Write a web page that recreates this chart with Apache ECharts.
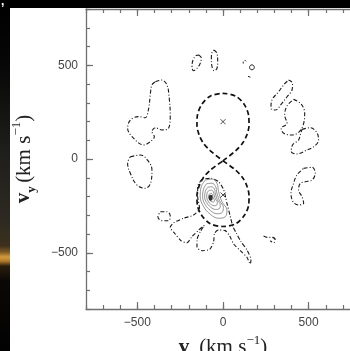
<!DOCTYPE html>
<html>
<head>
<meta charset="utf-8">
<script src="https://cdn.jsdelivr.net/npm/echarts@6/dist/echarts.min.js"></script>
<style>
  html, body { margin: 0; padding: 0; background: #fff; }
  #chart { width: 350px; height: 351px; }
</style>
</head>
<body>
<div id="chart"></div>
<script>
// Velocity-space range (km/s) and labelled ticks
const axisMin = -800;
const axisMax = 800;
const minorStep = 100;
const xTickLabels = [-500, 0, 500];
const yTickLabels = [-500, 0, 500];

// Roche lobes (dashed figure eight), [vx, vy] in km/s
const lobeUpper = [
  [0, -10], [75, 45], [115, 85], [140, 130], [152, 180], [150, 230], [125, 290], [75, 335],
  [0, 350], [-75, 335], [-125, 290], [-150, 230], [-152, 180], [-140, 130], [-115, 85], [-75, 45], [0, -10]
];
const lobeLower = [
  [0, -10], [75, -60], [115, -100], [140, -145], [152, -195], [150, -245], [125, -300], [75, -345],
  [0, -360], [-75, -345], [-125, -300], [-150, -245], [-152, -195], [-140, -145], [-115, -100], [-75, -60], [0, -10]
];

// Centres of mass of the two stars
const starCentres = [[0, 199], [0, -192]];

// Emission peak
const peak = [[-72, -207]];

// Dash-dot emission contours
const contourNW = [
  [-395, 412], [-358, 421], [-327, 395], [-314, 324], [-308, 235], [-318, 164], [-358, 155],
  [-395, 167], [-415, 146], [-401, 119], [-425, 92], [-464, 75], [-512, 101], [-557, 164],
  [-541, 208], [-493, 226], [-454, 220], [-434, 270], [-425, 341], [-415, 395], [-395, 412]
];
const contourW = [
  [-541, 12], [-483, 21], [-434, -14], [-415, -59], [-420, -121], [-454, -156],
  [-502, -139], [-541, -76], [-557, -23], [-541, 12]
];
const contourSWsmall = [
  [-366, -281], [-327, -281], [-308, -304], [-318, -329], [-356, -329], [-380, -308], [-366, -281]
];
const contourCentral = [
  [-123, -108], [-148, -148], [-148, -201], [-137, -263], [-172, -299], [-230, -316], [-288, -340],
  [-308, -364], [-279, -400], [-245, -436], [-210, -446], [-181, -414], [-142, -379], [-109, -354],
  [-133, -388], [-152, -432], [-152, -471], [-123, -489], [-78, -482], [-55, -441], [-49, -396],
  [-26, -379], [13, -382], [39, -411], [62, -453], [101, -489], [140, -524], [159, -560],
  [163, -539], [140, -485], [105, -441], [78, -396], [58, -361], [43, -308], [23, -236],
  [4, -165], [-26, -121], [-70, -103], [-123, -108]
];
const contourTopA = [
  [-142, 555], [-127, 540], [-133, 510], [-152, 484], [-172, 471], [-181, 492], [-175, 528], [-158, 551], [-142, 555]
];
const contourTopB = [
  [-55, 581], [-35, 564], [-31, 519], [-35, 484], [-51, 471], [-64, 492], [-68, 537], [-64, 569], [-55, 581]
];
const contourTopRing = [
  [183, 489], [179, 498], [169, 502], [159, 498], [155, 489], [159, 480], [169, 476], [179, 480], [183, 489]
];
const contourTopArc = [[136, 521], [127, 526], [118, 520], [118, 511], [126, 506]];
const contourTopDash = [[146, 441], [160, 436]];
const contourNE1 = [
  [383, 421], [406, 404], [403, 368], [374, 332], [344, 297], [305, 261], [280, 270],
  [286, 315], [325, 359], [354, 395], [383, 421]
];
const contourNE2 = [
  [412, 318], [457, 293], [477, 244], [471, 190], [446, 146], [403, 128], [354, 137],
  [340, 164], [374, 190], [360, 235], [374, 283], [412, 318]
];
const contourE = [
  [461, 158], [510, 167], [549, 140], [558, 101], [535, 69], [490, 48], [432, 27],
  [399, 39], [406, 75], [441, 101], [451, 128], [461, 158]
];
const contourSE = [
  [471, -50], [520, -44], [539, -76], [520, -112], [481, -121], [451, -130], [441, -165],
  [461, -201], [471, -236], [441, -245], [409, -228], [397, -183], [412, -130], [432, -85], [471, -50]
];
const contourSEsmall = [[237, -411], [260, -418], [286, -418], [305, -432], [296, -446], [276, -436]];

// Solid contours around the emission peak, outermost first
const peakLevels = [
  [[-103, -112], [-64, -107], [-35, -130], [-26, -174], [-6, -228], [23, -272], [13, -308],
   [-26, -316], [-74, -295], [-113, -254], [-133, -201], [-127, -148], [-103, -112]],
  [[-96, -132], [-65, -129], [-43, -147], [-36, -181], [-20, -223], [2, -257], [-5, -285],
   [-36, -292], [-73, -275], [-104, -243], [-119, -202], [-114, -161], [-96, -132]],
  [[-89, -151], [-67, -148], [-50, -161], [-44, -187], [-33, -218], [-16, -244], [-22, -265],
   [-44, -269], [-72, -257], [-95, -233], [-107, -203], [-103, -172], [-89, -151]],
  [[-83, -168], [-68, -166], [-56, -175], [-52, -193], [-44, -214], [-33, -232], [-37, -246],
   [-52, -249], [-72, -241], [-87, -225], [-95, -203], [-93, -182], [-83, -168]],
  [[-77, -185], [-69, -183], [-62, -188], [-60, -198], [-56, -210], [-50, -220], [-52, -228],
   [-60, -229], [-71, -225], [-79, -216], [-84, -204], [-83, -192], [-77, -185]]
];

const dashDot = { color: '#1a1a1a', width: 1.1, type: [4, 2, 1, 2] };
const lobeStyle = { color: '#111', width: 1.7, type: [5, 3] };
const solidStyle = { color: '#7a7a7a', width: 0.8, type: 'solid' };

function curve(data, style, smooth) {
  return {
    type: 'line', data: data, showSymbol: false, symbol: 'none',
    smooth: smooth, lineStyle: style, silent: true, animation: false, z: 3
  };
}

function fmt(v) { return v < 0 ? '\u2212' + Math.abs(v) : String(v); }

const labelFont = { fontFamily: 'Liberation Sans, Arial, sans-serif', fontSize: 12, color: '#444' };
const frameLine = { color: '#707070', width: 1.3 };
const tickStyle = { color: '#707070', width: 1.2 };

const titleRich = {
  v: { fontFamily: 'Liberation Serif, serif', fontSize: 21, fontWeight: 'bold', color: '#222', lineHeight: 28 },
  s: { fontFamily: 'Liberation Serif, serif', fontSize: 13, fontWeight: 'bold', color: '#222', lineHeight: 13, verticalAlign: 'bottom' },
  t: { fontFamily: 'Liberation Serif, serif', fontSize: 21, color: '#222', lineHeight: 28 },
  p: { fontFamily: 'Liberation Serif, serif', fontSize: 13, color: '#222', lineHeight: 13, verticalAlign: 'top' }
};

function minorAxis(pos, withLabels, labels, extra) {
  return Object.assign({
    type: 'value', min: axisMin, max: axisMax, interval: minorStep, position: pos,
    axisLine: { show: true, onZero: false, lineStyle: frameLine },
    axisTick: { show: true, inside: true, length: 4, lineStyle: tickStyle },
    axisLabel: withLabels
      ? Object.assign({ show: true, customValues: labels, formatter: fmt, margin: 8 }, labelFont)
      : { show: false },
    splitLine: { show: false }
  }, extra || {});
}
function majorAxis(pos, values) {
  return {
    type: 'value', min: axisMin, max: axisMax, position: pos,
    axisLine: { show: false, onZero: false },
    axisTick: { show: true, inside: true, length: 7, customValues: values, lineStyle: tickStyle },
    axisLabel: { show: false },
    splitLine: { show: false }
  };
}

const series = [
  curve(lobeUpper, lobeStyle, 0.3),
  curve(lobeLower, lobeStyle, 0.3),
  curve(contourNW, dashDot, 0.35),
  curve(contourW, dashDot, 0.4),
  curve(contourSWsmall, dashDot, 0.4),
  curve(contourCentral, dashDot, 0.25),
  curve(contourTopA, dashDot, 0.4),
  curve(contourTopB, dashDot, 0.4),
  curve(contourTopRing, { color: '#222', width: 1, type: 'solid' }, 0.5),
  curve(contourTopArc, { color: '#222', width: 1, type: [2, 2] }, 0.5),
  curve(contourTopDash, { color: '#222', width: 1, type: 'solid' }, 0),
  curve(contourNE1, dashDot, 0.35),
  curve(contourNE2, dashDot, 0.35),
  curve(contourE, dashDot, 0.35),
  curve(contourSE, dashDot, 0.35),
  curve(contourSEsmall, dashDot, 0.4)
];
peakLevels.forEach(function (lvl) { series.push(curve(lvl, solidStyle, 0.4)); });
series.push({
  type: 'scatter', data: starCentres, symbol: 'path://M0,0L10,10M10,0L0,10', symbolSize: 5,
  itemStyle: { color: 'none', borderColor: '#222', borderWidth: 1 }, silent: true, animation: false, z: 4
});
series.push({
  type: 'scatter', data: peak, symbol: 'circle', symbolSize: [4, 6],
  itemStyle: { color: '#000' }, silent: true, animation: false, z: 5
});

const chart = echarts.init(document.getElementById('chart'), null, { renderer: 'canvas' });
chart.setOption({
  backgroundColor: '#ffffff',
  animation: false,
  grid: { left: 86, top: 9, right: -10, bottom: 42, containLabel: false, outerBoundsMode: 'none' },
  xAxis: [
    minorAxis('bottom', true, xTickLabels, {
      name: '{v|v}{s|x} {t|(km s}{p|\u22121}{t|)}',
      nameLocation: 'middle', nameGap: 16,
      nameTextStyle: { rich: titleRich }
    }),
    majorAxis('bottom', xTickLabels),
    minorAxis('top', false),
    majorAxis('top', xTickLabels)
  ],
  yAxis: [
    minorAxis('left', true, yTickLabels, {
      name: '{v|v}{s|y} {t|(km s}{p|\u22121}{t|)}',
      nameLocation: 'middle', nameGap: 48, nameRotate: 90,
      nameTextStyle: { rich: titleRich }
    }),
    majorAxis('left', yTickLabels),
    minorAxis('right', false),
    majorAxis('right', yTickLabels)
  ],
  graphic: {
    elements: [
      { type: 'rect', left: 0, top: 0, shape: { width: 350, height: 8 }, style: { fill: '#000' }, silent: true },
      {
        type: 'rect', left: 0, top: 0, shape: { width: 10, height: 351 }, silent: true,
        style: {
          fill: new echarts.graphic.LinearGradient(0, 0, 0, 1, [
            { offset: 0, color: '#000' },
            { offset: 0.17, color: '#060606' },
            { offset: 0.43, color: '#1e1e1c' },
            { offset: 0.63, color: '#2e2a22' },
            { offset: 0.70, color: '#3c301c' },
            { offset: 0.718, color: '#7a5822' },
            { offset: 0.732, color: '#d49a3c' },
            { offset: 0.744, color: '#b07a2a' },
            { offset: 0.758, color: '#2a1e0c' },
            { offset: 0.80, color: '#0a0806' },
            { offset: 1, color: '#020202' }
          ])
        }
      },
      { type: 'text', left: 1, top: -4, style: { text: ',', fill: '#fff', font: 'bold 12px Liberation Sans' }, silent: true }
    ]
  },
  series: series
});
</script>
</body>
</html>
